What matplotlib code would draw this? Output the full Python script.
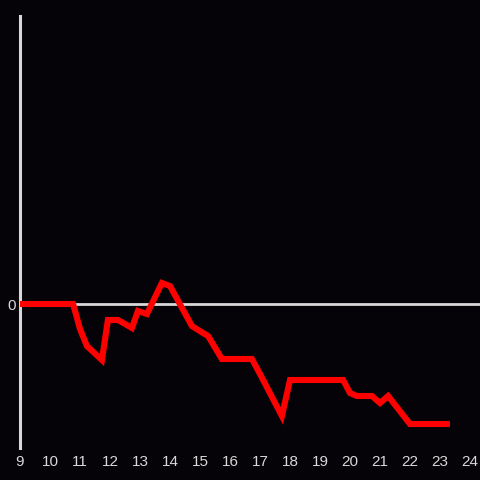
import matplotlib
matplotlib.use("Agg")
import matplotlib.pyplot as plt

# hours of the day and the value of the series (0 = baseline)
hours = [9.0, 10.77, 11.0, 11.23, 11.73, 11.93, 12.27, 12.73, 12.93, 13.23,
         13.73, 14.0, 14.73, 15.1, 15.27, 15.73, 16.73, 17.0, 17.73, 18.0,
         19.77, 20.0, 20.23, 20.73, 21.0, 21.27, 22.0, 23.33]
values = [0, 0, -25, -42, -56, -16, -16, -24, -7, -10,
          21, 18, -22, -29, -32, -55, -55, -70, -112, -76,
          -76, -89, -92, -92, -99, -92, -120, -120]
xticks = list(range(9, 25))

bg = '#050307'
fg = '#d8d8d8'
plt.rcParams['font.family'] = ['Liberation Sans', 'DejaVu Sans']

fig = plt.figure(figsize=(4.8, 4.8), dpi=100, facecolor=bg)
ax = fig.add_axes([20/480, 1-448/480, 450/480, 432/480])
ax.set_facecolor(bg)

ax.plot(hours, values, color='#ff0000', linewidth=4.4, solid_joinstyle='miter',
        solid_capstyle='butt', zorder=3)

ax.set_xlim(9, 24)
ax.set_ylim(-144, 288)

# baseline at zero, runs to the figure edge
ax.plot([0, 460/450], [0, 0], color=fg, linewidth=2, transform=ax.get_yaxis_transform(),
        clip_on=False, zorder=2)

for s in ['top', 'right', 'bottom']:
    ax.spines[s].set_visible(False)
ax.spines['left'].set_color(fg)
ax.spines['left'].set_linewidth(2.2)

ax.set_xticks(xticks)
ax.set_xticklabels([str(t) for t in xticks])
ax.set_yticks([0])
ax.set_yticklabels(['0'])
ax.tick_params(axis='both', length=0, colors=fg, labelsize=11)
ax.tick_params(axis='x', pad=5)
ax.tick_params(axis='y', pad=3)

fig.savefig('out.png', dpi=100, facecolor=bg)
